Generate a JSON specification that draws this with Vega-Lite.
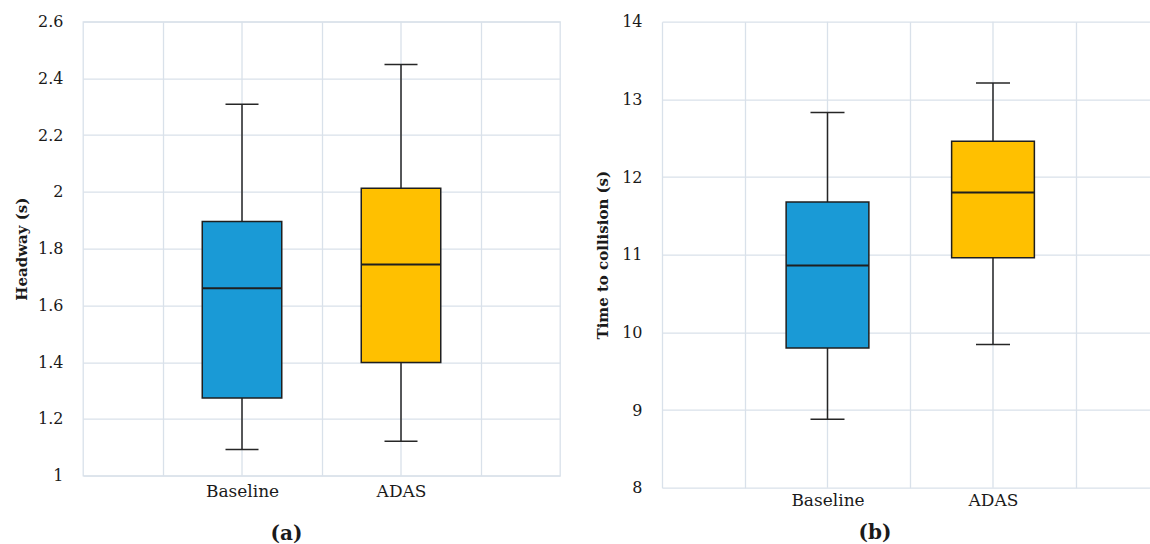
{
  "$schema": "https://vega.github.io/schema/vega-lite/v6.json",
  "background": "white",
  "padding": {"left": 13, "top": 12.7, "right": 0, "bottom": 0},
  "spacing": 34,
  "config": {
    "font": "DejaVu Serif",
    "axis": {"gridColor": "#D9E1EA", "gridWidth": 1.3, "ticks": false, "labelColor": "#1a1a1a", "titleColor": "#1a1a1a", "labelFont": "DejaVu Serif", "titleFont": "DejaVu Serif"},
    "view": {"stroke": null}
  },
  "datasets": {
    "headway": [
      {"condition": "Baseline", "lower": 1.092, "q1": 1.274, "median": 1.661, "q3": 1.896, "upper": 2.309},
      {"condition": "ADAS", "lower": 1.121, "q1": 1.399, "median": 1.744, "q3": 2.013, "upper": 2.449}
    ],
    "ttc": [
      {"condition": "Baseline", "lower": 8.88, "q1": 9.8, "median": 10.86, "q3": 11.68, "upper": 12.83},
      {"condition": "ADAS", "lower": 9.845, "q1": 10.96, "median": 11.8, "q3": 12.46, "upper": 13.21}
    ]
  },
  "hconcat": [
    {
      "width": 477,
      "height": 454,
      "data": {"name": "headway"},
      "view": {"stroke": "#D9E1EA", "strokeWidth": 1.3},
      "encoding": {
        "x": {
          "field": "condition", "type": "nominal", "sort": ["Baseline", "ADAS"],
          "scale": {"paddingInner": 0, "paddingOuter": 0.5},
          "axis": {"title": "(a)", "labelAngle": 0, "labelFontSize": 17, "labelPadding": 8, "domain": false, "tickBand": "extent", "grid": true, "titleFontSize": 20, "titleFontWeight": "bold", "titleX": 203, "titleY": 64, "titleBaseline": "alphabetic"}
        }
      },
      "layer": [
        {"mark": {"type": "rule", "color": "#D9E1EA", "strokeWidth": 1.3}, "encoding": {}},
        {
          "mark": {"type": "rule", "color": "#262626", "strokeWidth": 1.5},
          "encoding": {
            "y": {"field": "lower", "type": "quantitative", "title": "Headway (s)", "scale": {"domain": [1, 2.6], "nice": false, "zero": false},
              "axis": {"values": [1, 1.2, 1.4, 1.6, 1.8, 2, 2.2, 2.4, 2.6], "format": "~g", "labelFontSize": 16, "labelPadding": 20, "titleFontSize": 15, "titleFontWeight": "bold", "titlePadding": 8, "domain": false}},
            "y2": {"field": "upper"}
          }
        },
        {
          "mark": {"type": "bar", "width": {"band": 0.5}, "stroke": "#1f1f1f", "strokeWidth": 1.5},
          "encoding": {
            "y": {"field": "q1", "type": "quantitative", "title": "Headway (s)"},
            "y2": {"field": "q3"},
            "color": {"field": "condition", "type": "nominal", "scale": {"domain": ["Baseline", "ADAS"], "range": ["#1A9AD6", "#FFC000"]}, "legend": null}
          }
        },
        {"mark": {"type": "tick", "size": 80, "thickness": 2, "color": "#1f1f1f", "opacity": 1}, "encoding": {"y": {"field": "median", "type": "quantitative", "title": "Headway (s)"}}},
        {"mark": {"type": "tick", "size": 33, "thickness": 1.5, "color": "#262626", "opacity": 1}, "encoding": {"y": {"field": "lower", "type": "quantitative", "title": "Headway (s)"}}},
        {"mark": {"type": "tick", "size": 33, "thickness": 1.5, "color": "#262626", "opacity": 1}, "encoding": {"y": {"field": "upper", "type": "quantitative", "title": "Headway (s)"}}}
      ]
    },
    {
      "width": 487.5,
      "height": 466,
      "data": {"name": "ttc"},
      "encoding": {
        "x": {
          "field": "condition", "type": "nominal", "sort": ["Baseline", "ADAS"],
          "scale": {"paddingInner": 0, "paddingOuter": 0.4728, "align": 0.5288},
          "axis": {"title": "(b)", "labelAngle": 0, "labelFontSize": 17, "labelPadding": 5, "domain": false, "tickBand": "extent", "grid": true, "titleFontSize": 20, "titleFontWeight": "bold", "titleX": 212.5, "titleY": 51, "titleBaseline": "alphabetic"}
        }
      },
      "layer": [
        {"mark": {"type": "rule", "color": "#D9E1EA", "strokeWidth": 1.3}, "encoding": {}},
        {
          "mark": {"type": "rule", "color": "#262626", "strokeWidth": 1.5},
          "encoding": {
            "y": {"field": "lower", "type": "quantitative", "title": "Time to collision (s)", "scale": {"domain": [8, 14], "nice": false, "zero": false},
              "axis": {"values": [8, 9, 10, 11, 12, 13, 14], "format": "d", "labelFontSize": 16, "labelPadding": 20, "titleFontSize": 15, "titleFontWeight": "bold", "titlePadding": 11, "domain": true, "domainColor": "#D9E1EA", "domainWidth": 1.3}},
            "y2": {"field": "upper"}
          }
        },
        {
          "mark": {"type": "bar", "width": {"band": 0.5}, "stroke": "#1f1f1f", "strokeWidth": 1.5},
          "encoding": {
            "y": {"field": "q1", "type": "quantitative", "title": "Time to collision (s)"},
            "y2": {"field": "q3"},
            "color": {"field": "condition", "type": "nominal", "scale": {"domain": ["Baseline", "ADAS"], "range": ["#1A9AD6", "#FFC000"]}, "legend": null}
          }
        },
        {"mark": {"type": "tick", "size": 83, "thickness": 2, "color": "#1f1f1f", "opacity": 1}, "encoding": {"y": {"field": "median", "type": "quantitative", "title": "Time to collision (s)"}}},
        {"mark": {"type": "tick", "size": 34, "thickness": 1.5, "color": "#262626", "opacity": 1}, "encoding": {"y": {"field": "lower", "type": "quantitative", "title": "Time to collision (s)"}}},
        {"mark": {"type": "tick", "size": 34, "thickness": 1.5, "color": "#262626", "opacity": 1}, "encoding": {"y": {"field": "upper", "type": "quantitative", "title": "Time to collision (s)"}}}
      ]
    }
  ]
}
